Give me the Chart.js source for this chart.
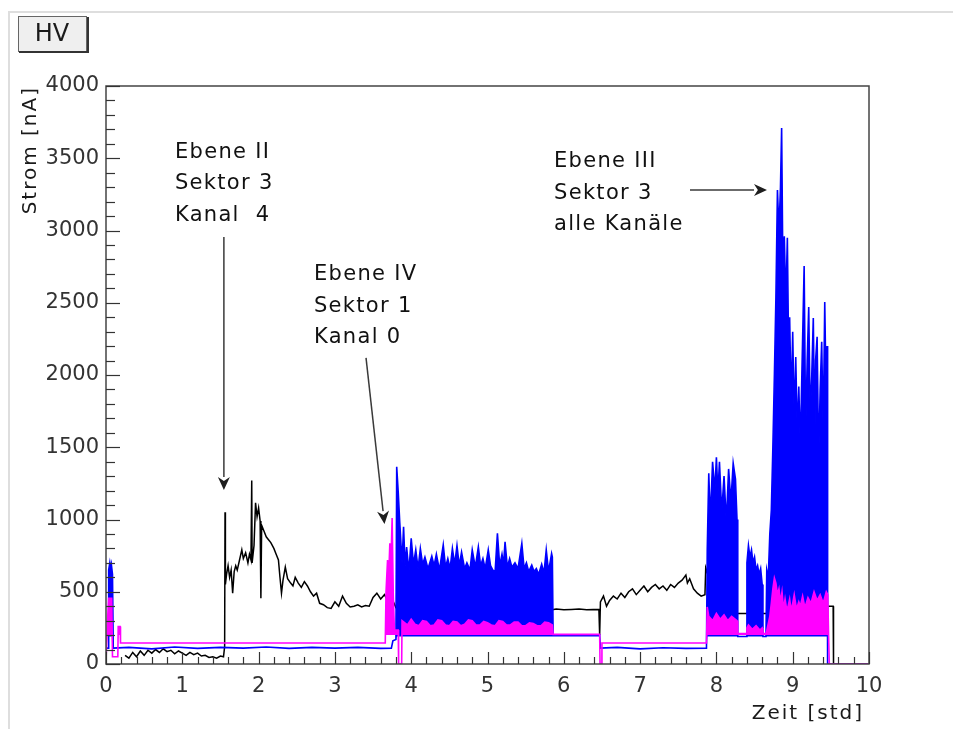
<!DOCTYPE html>
<html>
<head>
<meta charset="utf-8">
<script src="https://cdn.jsdelivr.net/npm/chart.js@4.4.1/dist/chart.umd.min.js"></script>
<style>
  html, body { margin: 0; padding: 0; background: #fff; }
  canvas { display: block; }
</style>
</head>
<body>
<canvas id="hv" width="953" height="729"></canvas>
<script>
// ---- HV current log: time in hours, current in nA ----

const xTickValues = [0, 1, 2, 3, 4, 5, 6, 7, 8, 9, 10];
const yTickValues = [0, 500, 1000, 1500, 2000, 2500, 3000, 3500, 4000];

// black trace
const blackTime = [
  0.25, 0.3, 0.35, 0.4, 0.45, 0.5, 0.55, 0.6, 0.65, 0.7,
  0.75, 0.8, 0.85, 0.9, 0.95, 1.0, 1.05, 1.1, 1.15, 1.2,
  1.25, 1.3, 1.35, 1.4, 1.45, 1.5, 1.54, 1.555, 1.56, 1.565,
  1.58, 1.6, 1.62, 1.64, 1.66, 1.68, 1.7, 1.72, 1.75, 1.78,
  1.8, 1.83, 1.86, 1.88, 1.9, 1.91, 1.915, 1.94, 1.96, 1.98,
  2.0, 2.02, 2.03, 2.04, 2.07, 2.1, 2.13, 2.16, 2.2, 2.23,
  2.26, 2.28, 2.3, 2.32, 2.35, 2.38, 2.42, 2.45, 2.48, 2.52,
  2.56, 2.6, 2.64, 2.68, 2.72, 2.76, 2.8, 2.85, 2.9, 2.95,
  3.0, 3.05, 3.1, 3.15, 3.2, 3.25, 3.3, 3.35, 3.4, 3.45,
  3.5, 3.55, 3.6, 3.65, 3.7, 3.75, 3.8, 4.5, 5.2, 5.85,
  5.9, 6.0, 6.1, 6.2, 6.3, 6.46, 6.47, 6.48, 6.52, 6.56,
  6.6, 6.65, 6.7, 6.75, 6.8, 6.85, 6.9, 6.95, 7.0, 7.05,
  7.1, 7.15, 7.2, 7.25, 7.3, 7.35, 7.4, 7.45, 7.5, 7.55,
  7.6, 7.62, 7.65, 7.7, 7.75, 7.8, 7.85, 7.86, 7.9, 8.27,
  8.66, 9.0, 9.45, 9.455, 9.53, 9.535, 10
];
const blackCurrent = [
  60, 40, 80, 50, 90, 60, 95, 75, 100, 80,
  105, 85, 95, 70, 90, 75, 60, 80, 65, 75,
  55, 60, 45, 50, 40, 55, 50, 120, 1050, 550,
  620, 680, 600, 650, 490, 640, 680, 650, 720, 790,
  730, 770, 700, 760, 720, 1270, 700, 820, 1115, 1020,
  1080, 990, 455, 960, 920, 880, 860, 840, 800, 760,
  720, 600, 490, 580, 670, 590, 560, 540, 600, 560,
  530, 570, 540, 500, 470, 490, 420, 410, 390, 385,
  430, 400, 470, 420, 395, 400, 410, 395, 405, 400,
  460, 490, 450, 480, 430, 450, 390, 380, 380, 375,
  380, 375, 378, 380, 375, 378, 200, 430, 470, 400,
  440, 470, 450, 490, 460, 500, 520, 480, 510, 540,
  500, 530, 550, 520, 540, 510, 550, 530, 560, 580,
  615, 560, 590, 520, 490, 470, 480, 665, 600, 350,
  350, 350, 350, 400, 400, 0, 0
];

// blue trace
const blueTime = [
  0.01, 0.03, 0.035, 0.05, 0.06, 0.07, 0.085, 0.095, 0.3, 0.6,
  0.9, 1.2, 1.5, 1.8, 2.1, 2.4, 2.7, 3.0, 3.3, 3.6,
  3.74, 3.76, 3.80, 3.81, 3.83, 3.85,
  3.88, 3.90, 3.92, 3.94, 3.97, 4.00, 4.03, 4.06, 4.09, 4.12,
  4.15, 4.18, 4.22, 4.27, 4.30, 4.33, 4.37, 4.42, 4.45, 4.48,
  4.51, 4.54, 4.57, 4.60, 4.63, 4.66, 4.70, 4.73, 4.77, 4.80,
  4.84, 4.88, 4.91, 4.94, 4.97, 5.01, 5.04, 5.07, 5.10, 5.13,
  5.16, 5.19, 5.21, 5.23, 5.26, 5.29, 5.32, 5.36, 5.40, 5.45,
  5.48, 5.51, 5.54, 5.58, 5.61, 5.64, 5.67, 5.71, 5.74, 5.77,
  5.80, 5.84, 5.85,
  5.86, 6.47, 6.48, 6.7, 7.0, 7.3, 7.6, 7.87,
  7.88, 7.90, 7.92, 7.95, 7.98, 8.00, 8.02, 8.04, 8.07, 8.10,
  8.13, 8.16, 8.19, 8.22, 8.25, 8.27,
  8.28, 8.39,
  8.40, 8.42, 8.44, 8.46, 8.48, 8.50, 8.52, 8.54, 8.56, 8.58, 8.60,
  8.61, 8.65,
  8.66, 8.68, 8.70, 8.72, 8.74, 8.76, 8.78, 8.80, 8.82, 8.84,
  8.855, 8.87, 8.89, 8.91, 8.93, 8.95, 8.96, 8.98, 9.00, 9.02,
  9.04, 9.06, 9.08, 9.10, 9.12, 9.15, 9.17, 9.19, 9.21, 9.23,
  9.25, 9.27, 9.29, 9.30, 9.32, 9.34, 9.36, 9.38, 9.40, 9.42,
  9.44, 9.45,
  9.455, 9.46, 10
];
const blueCurrent = [
  110, 110, 650, 700, 660, 690, 620, 110, 115, 105,
  118, 108, 115, 110, 118, 108, 115, 110, 115, 108,
  110, 160, 170, 1365, 1190, 980,
  700, 950, 680, 810, 640, 870, 690, 790, 660, 800,
  690, 740, 660, 745, 680, 760, 650, 825, 670, 730,
  660, 800, 690, 820, 680, 775, 660, 700, 650, 790,
  670, 810, 680, 730, 660, 790, 680, 650, 640, 905,
  680, 760, 690, 845, 670, 730, 670, 700, 660, 835,
  660, 700, 640, 685, 640, 660, 620, 690, 630, 790,
  640, 765, 740,
  200, 200, 110, 115, 105, 112, 108, 110,
  790, 1320, 1000, 1400, 1200, 1430, 1180, 1400, 1050, 1300,
  980, 1350, 1120, 1390, 1280, 1000,
  190, 190,
  700, 820, 740, 790, 700, 740, 650, 680, 620, 660, 550,
  190, 190,
  650, 600, 900, 1065, 1500, 2000, 2540, 3280, 3000, 3300,
  3710, 2800, 2960, 2500, 2950, 2000, 2400, 1800, 2300, 1700,
  2125, 1600, 1920, 1500, 2000, 2755, 1600, 2100, 2470, 1700,
  2000, 2395, 1500, 2100, 2265, 1400, 1900, 2230, 1600, 2505,
  1800, 2200,
  190, 0, 0
];
// bottom of the dense blue bursts
const blueFloor = 190;

// magenta trace
const magentaTime = [
  0.0, 0.02, 0.035, 0.075, 0.085, 0.155, 0.16, 0.185, 0.19, 0.8,
  1.6, 2.4, 3.2, 3.66,
  3.67, 3.69, 3.705, 3.72, 3.735, 3.75, 3.765, 3.78, 3.83, 3.835, 3.875,
  3.88, 3.95, 4.0, 4.05, 4.1, 4.15, 4.2, 4.25, 4.3, 4.35,
  4.4, 4.45, 4.5, 4.55, 4.6, 4.65, 4.7, 4.75, 4.8, 4.85,
  4.9, 4.95, 5.0, 5.05, 5.1, 5.15, 5.2, 5.25, 5.3, 5.35,
  5.4, 5.45, 5.5, 5.55, 5.6, 5.65, 5.7, 5.75, 5.8, 5.85,
  5.86, 6.47, 6.475, 6.495, 6.5, 7.87,
  7.88, 7.9, 7.95, 8.0, 8.05, 8.1, 8.15, 8.2, 8.27,
  8.28, 8.39, 8.40, 8.42, 8.47, 8.52, 8.57, 8.6, 8.61, 8.65,
  8.66, 8.70, 8.72, 8.74, 8.76, 8.78, 8.80, 8.82, 8.84, 8.86,
  8.88, 8.90, 8.92, 8.94, 8.96, 8.98, 9.0, 9.02, 9.05, 9.08,
  9.1, 9.13, 9.16, 9.2, 9.24, 9.28, 9.32, 9.36, 9.4, 9.44,
  9.46, 9.47, 9.48, 10
];
const magentaCurrent = [
  20, 300, 455, 455, 50, 50, 260, 260, 145, 145,
  145, 145, 145, 145,
  500, 720, 600, 835, 700, 1010, 480, 235, 235, 0, 0,
  300, 270, 310, 275, 265, 300, 295, 265, 270, 305,
  300, 270, 265, 295, 290, 265, 275, 305, 300, 270,
  270, 295, 285, 270, 265, 300, 295, 270, 270, 290,
  290, 265, 265, 285, 280, 265, 265, 290, 285, 270,
  205, 205, 0, 0, 145, 145,
  395, 330, 300, 350, 310, 340, 300, 330, 300,
  210, 210, 250, 270, 240, 265, 235, 250, 210, 210,
  230, 330, 420, 520, 595, 560, 480, 520, 430, 500,
  380, 450, 380, 400, 450, 370, 420, 480, 380, 430,
  400, 470, 390, 460, 420, 500, 440, 480, 420, 500,
  480, 200, 0, 0
];
// bottom of the dense magenta bursts
const magentaFloor = 200;

// annotation texts, anchored in (hours, nA)
const noteLines = [
  ['Ebene II', 'Sektor 3', 'Kanal  4'],
  ['Ebene IV', 'Sektor 1', 'Kanal 0'],
  ['Ebene III', 'Sektor 3', 'alle Kanäle']
];
const noteAnchor = [[0.904, 3502], [2.726, 2657], [5.872, 3439]];
const arrowFrom = [[1.545, 2955], [3.408, 2118], [7.654, 3280]];
const arrowTo   = [[1.545, 1204], [3.65, 969], [8.663, 3280]];

// ---- drawing ----
const FONT = "'DejaVu Sans', 'Liberation Sans', sans-serif";
Chart.defaults.font.family = FONT;

const toPoints = (ts, vs) => ts.map((t, i) => ({ x: t, y: vs[i] }));
// lower edge of a burst: the trace itself, capped at the burst floor
const floorPoints = (ts, vs, floor) => ts.map((t, i) => ({ x: t, y: Math.min(vs[i], floor) }));

function arrow(ctx, x1, y1, x2, y2) {
  const a = Math.atan2(y2 - y1, x2 - x1);
  const L = 13, W = 6;
  const bx = x2 - L * Math.cos(a), by = y2 - L * Math.sin(a);
  ctx.beginPath();
  ctx.moveTo(x1, y1);
  ctx.lineTo(bx, by);
  ctx.stroke();
  ctx.beginPath();
  ctx.moveTo(x2, y2);
  ctx.lineTo(bx - W * Math.sin(a), by + W * Math.cos(a));
  ctx.lineTo(x2 - 0.7 * L * Math.cos(a), y2 - 0.7 * L * Math.sin(a));
  ctx.lineTo(bx + W * Math.sin(a), by - W * Math.cos(a));
  ctx.closePath();
  ctx.fill();
}

const decorations = {
  id: 'decorations',
  beforeDraw(chart) {
    const ctx = chart.ctx;
    ctx.save();
    ctx.fillStyle = '#ffffff';
    ctx.fillRect(0, 0, chart.width, chart.height);
    ctx.restore();
  },
  afterDatasetsDraw(chart) {
    const { ctx, chartArea: a, scales: { x, y } } = chart;
    ctx.save();
    // plot frame
    ctx.strokeStyle = '#444';
    ctx.lineWidth = 1.5;
    ctx.strokeRect(a.left, a.top, a.right - a.left, a.bottom - a.top);
    // inner tick marks
    ctx.lineWidth = 1.2;
    ctx.strokeStyle = '#333';
    for (let i = 0; i <= 50; i++) {
      const px = Math.round(x.getPixelForValue(i * 0.2)) + 0.5;
      const len = i % 5 === 0 ? 12 : 7;
      ctx.beginPath();
      ctx.moveTo(px, a.bottom);
      ctx.lineTo(px, a.bottom - len);
      ctx.stroke();
    }
    for (let i = 0; i <= 40; i++) {
      const py = Math.round(y.getPixelForValue(i * 100)) + 0.5;
      const len = i % 5 === 0 ? 14 : 9;
      ctx.beginPath();
      ctx.moveTo(a.left, py);
      ctx.lineTo(a.left + len, py);
      ctx.stroke();
    }
    ctx.restore();
  },
  afterDraw(chart) {
    const { ctx, scales: { x, y } } = chart;
    ctx.save();

    // outer panel edge
    ctx.strokeStyle = '#dedede';
    ctx.lineWidth = 2;
    ctx.beginPath();
    ctx.moveTo(9, chart.height);
    ctx.lineTo(9, 12);
    ctx.lineTo(chart.width, 12);
    ctx.stroke();

    // HV button
    ctx.fillStyle = '#efefef';
    ctx.fillRect(18, 16, 69, 36);
    ctx.strokeStyle = '#666';
    ctx.lineWidth = 1;
    ctx.strokeRect(18.5, 16.5, 68, 35);
    ctx.strokeStyle = '#333';
    ctx.lineWidth = 2;
    ctx.beginPath();
    ctx.moveTo(19, 52);
    ctx.lineTo(88, 52);
    ctx.lineTo(88, 17);
    ctx.stroke();
    ctx.fillStyle = '#1a1a1a';
    ctx.font = '24px ' + FONT;
    ctx.textAlign = 'center';
    ctx.textBaseline = 'middle';
    ctx.fillText('HV', 52, 35);

    // axis titles
    ctx.fillStyle = '#1a1a1a';
    ctx.font = '20px ' + FONT;
    ctx.letterSpacing = '2px';
    ctx.textBaseline = 'alphabetic';
    ctx.textAlign = 'right';
    ctx.fillText('Zeit [std]', 864, 719);
    ctx.save();
    ctx.translate(36, y.getPixelForValue(4000));
    ctx.rotate(-Math.PI / 2);
    ctx.textAlign = 'right';
    ctx.fillText('Strom [nA]', 0, 0);
    ctx.restore();

    // notes
    ctx.letterSpacing = '1.3px';
    ctx.font = '21px ' + FONT;
    ctx.textAlign = 'left';
    ctx.fillStyle = '#111';
    noteLines.forEach((lines, k) => {
      const px = x.getPixelForValue(noteAnchor[k][0]);
      const py = y.getPixelForValue(noteAnchor[k][1]);
      lines.forEach((txt, j) => ctx.fillText(txt, px, py + j * 31.5));
    });
    ctx.letterSpacing = '0px';

    // arrows
    ctx.strokeStyle = '#3a3a3a';
    ctx.fillStyle = '#1e1e1e';
    ctx.lineWidth = 1.5;
    arrowFrom.forEach((p, k) => {
      arrow(ctx,
        x.getPixelForValue(p[0]), y.getPixelForValue(p[1]),
        x.getPixelForValue(arrowTo[k][0]), y.getPixelForValue(arrowTo[k][1]));
    });
    ctx.restore();
  }
};

const tickFont = { size: 21, family: FONT };
const plainNumber = v => String(v);

new Chart(document.getElementById('hv'), {
  type: 'line',
  data: {
    datasets: [
      {
        label: 'magenta',
        data: toPoints(magentaTime, magentaCurrent),
        borderColor: '#ff00ff',
        backgroundColor: '#ff00ff',
        borderWidth: 1.6,
        pointRadius: 0,
        fill: 1
      },
      {
        label: 'magenta floor',
        data: floorPoints(magentaTime, magentaCurrent, magentaFloor),
        borderColor: 'rgba(0,0,0,0)',
        borderWidth: 1,
        pointRadius: 0,
        fill: false
      },
      {
        label: 'blue',
        data: toPoints(blueTime, blueCurrent),
        borderColor: '#0000ff',
        backgroundColor: '#0000ff',
        borderWidth: 1.6,
        pointRadius: 0,
        fill: 3
      },
      {
        label: 'blue floor',
        data: floorPoints(blueTime, blueCurrent, blueFloor),
        borderColor: 'rgba(0,0,0,0)',
        borderWidth: 1,
        pointRadius: 0,
        fill: false
      },
      {
        label: 'black',
        data: toPoints(blackTime, blackCurrent),
        borderColor: '#000000',
        borderWidth: 1.5,
        pointRadius: 0,
        fill: false
      }
    ]
  },
  options: {
    responsive: false,
    animation: false,
    devicePixelRatio: 1,
    layout: { padding: { top: 86, right: 84, bottom: 0, left: 0 } },
    plugins: { legend: { display: false }, tooltip: { enabled: false } },
    scales: {
      x: {
        type: 'linear',
        min: 0,
        max: 10,
        grid: { display: false, drawTicks: false },
        border: { display: false },
        afterBuildTicks(s) { s.ticks = xTickValues.map(v => ({ value: v })); },
        ticks: { autoSkip: false, maxRotation: 0, padding: 10, color: '#333', font: tickFont, callback: plainNumber },
        afterFit(s) { s.height = 65; }
      },
      y: {
        type: 'linear',
        min: 0,
        max: 4000,
        grid: { display: false, drawTicks: false },
        border: { display: false },
        afterBuildTicks(s) { s.ticks = yTickValues.map(v => ({ value: v })); },
        ticks: { autoSkip: false, padding: 7, color: '#333', font: tickFont, callback: plainNumber },
        afterFit(s) { s.width = 106; }
      }
    }
  },
  plugins: [decorations]
});
</script>
</body>
</html>
